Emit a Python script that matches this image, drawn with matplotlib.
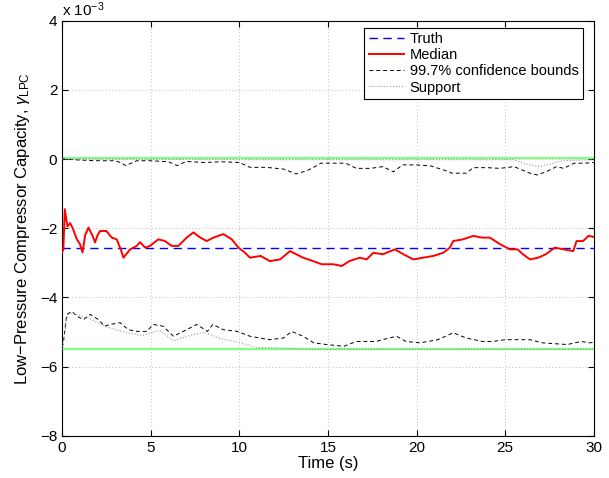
import numpy as np
import matplotlib
matplotlib.use("Agg")
import matplotlib.pyplot as plt

plt.rcParams["font.family"] = ["Liberation Sans", "DejaVu Sans"]
plt.rcParams["mathtext.fontset"] = "custom"
plt.rcParams["mathtext.rm"] = "Liberation Sans"
plt.rcParams["mathtext.it"] = "Liberation Sans:italic"

# values are in units of 1e-3
truth_val = -2.56
support_hi = 0.02
support_lo = -5.5

t_med = [0.0, 0.07, 0.15, 0.3, 0.45, 0.6, 0.83, 1.0, 1.15, 1.3, 1.49, 1.7, 1.86, 2.0, 2.14,
         2.5, 2.8, 3.08, 3.3, 3.46, 3.84, 4.21, 4.4, 4.68, 4.96, 5.43, 5.8, 6.18, 6.56,
         7.03, 7.41, 7.8, 8.16, 8.54, 9.1, 9.57, 9.95, 10.3, 10.6, 11.2, 11.73, 12.3,
         12.86, 13.2, 13.6, 14.0, 14.65, 15.3, 15.78, 16.2, 16.8, 17.18, 17.56, 18.1,
         18.78, 19.25, 19.82, 20.38, 20.94, 21.5, 21.88, 22.07, 22.63, 23.2, 23.67,
         24.14, 24.7, 25.27, 25.7, 26.0, 26.4, 26.87, 27.3, 27.8, 28.3, 28.84, 29.03,
         29.4, 29.7, 30.0]
median = [-2.7, -2.61, -1.45, -1.95, -1.85, -2.0, -2.32, -2.45, -2.7, -2.2, -1.98, -2.2,
          -2.41, -2.2, -2.08, -2.08, -2.27, -2.32, -2.6, -2.85, -2.61, -2.51, -2.40, -2.56,
          -2.51, -2.32, -2.37, -2.51, -2.51, -2.27, -2.12, -2.27, -2.37, -2.27, -2.17,
          -2.32, -2.56, -2.7, -2.85, -2.80, -2.95, -2.90, -2.66, -2.75, -2.85, -2.92,
          -3.04, -3.04, -3.09, -2.95, -2.85, -2.90, -2.71, -2.75, -2.61, -2.75, -2.90,
          -2.85, -2.80, -2.71, -2.56, -2.37, -2.32, -2.22, -2.27, -2.27, -2.46, -2.61,
          -2.61, -2.75, -2.90, -2.85, -2.75, -2.56, -2.61, -2.66, -2.37, -2.37, -2.22,
          -2.25]

t_up = [0.0, 1.0, 2.0, 3.0, 3.27, 3.6, 4.2, 5.0, 6.0, 6.5, 7.0, 8.0, 9.0, 10.0, 10.6,
        11.5, 12.5, 13.2, 13.8, 14.2, 14.6, 16.0, 16.6, 17.4, 18.1, 18.7, 19.2, 20.0,
        20.8, 21.6, 22.0, 22.8, 23.2, 24.0, 24.7, 25.5, 26.4, 26.8, 27.3, 27.9, 28.3,
        28.9, 29.5, 30.0]
upper = [0.0, -0.03, -0.05, -0.05, -0.10, -0.19, -0.05, -0.05, -0.08, -0.19, -0.07,
         -0.10, -0.08, -0.10, -0.24, -0.24, -0.29, -0.43, -0.34, -0.24, -0.12, -0.12,
         -0.27, -0.27, -0.22, -0.37, -0.17, -0.17, -0.20, -0.33, -0.41, -0.41, -0.25,
         -0.25, -0.27, -0.22, -0.41, -0.46, -0.37, -0.22, -0.27, -0.12, -0.12, -0.10]

t_lo = [0.0, 0.07, 0.26, 0.55, 0.83, 1.2, 1.58, 2.05, 2.4, 2.7, 3.27, 3.74, 4.21, 4.77,
        5.15, 5.7, 6.28, 6.84, 7.6, 8.2, 8.5, 9.1, 9.88, 10.6, 11.7, 12.5, 12.95, 13.6,
        14.2, 14.93, 15.9, 16.6, 17.7, 18.87, 19.4, 20.2, 21.2, 22.07, 22.8, 23.7, 24.3,
        25.0, 26.4, 27.1, 28.5, 29.3, 29.7, 30.0]
lower = [-5.45, -5.3, -4.49, -4.40, -4.54, -4.64, -4.49, -4.64, -4.83, -4.78, -4.73,
         -4.93, -4.98, -4.98, -4.78, -4.83, -5.12, -4.98, -4.78, -4.98, -4.78, -4.93,
         -4.98, -5.12, -5.22, -5.17, -4.98, -5.12, -5.31, -5.36, -5.41, -5.27, -5.27,
         -5.12, -5.27, -5.31, -5.22, -5.02, -5.17, -5.27, -5.27, -5.22, -5.22, -5.31,
         -5.36, -5.27, -5.31, -5.30]

t_sup_up = [0.0, 10.0, 25.5, 26.2, 26.9, 27.5, 28.2, 30.0]
sup_up = [0.0, -0.02, -0.02, -0.15, -0.22, -0.15, -0.05, -0.02]

t_sup_lo = [0.0, 0.3, 0.6, 1.5, 2.5, 3.5, 4.5, 5.5, 6.3, 7.2, 8.0, 9.0, 10.0, 11.0,
            12.0, 14.0, 20.0, 30.0]
sup_lo = [-5.5, -4.5, -4.45, -4.6, -4.85, -5.0, -5.1, -4.95, -5.25, -5.1, -5.0, -5.2,
          -5.3, -5.45, -5.45, -5.5, -5.5, -5.5]

fig = plt.figure(figsize=(6.09, 4.78), dpi=100)
ax = fig.add_axes([0.102, 0.088, 0.873, 0.869])

ax.axhline(support_hi, color="#80ff80", lw=1.6, zorder=2)
ax.axhline(support_lo, color="#80ff80", lw=1.6, zorder=2)
ax.plot([0, 30], [truth_val, truth_val], "--", color="#0000ff", lw=1.0,
        dashes=(6, 4), label="Truth", zorder=4)
ax.plot(t_med, median, color="#ff0000", lw=1.4, label="Median", zorder=5)
ax.plot(t_up, upper, "--", color="black", lw=0.7, dashes=(4, 3),
        label="99.7% confidence bounds", zorder=3)
ax.plot(t_lo, lower, "--", color="black", lw=0.7, dashes=(4, 3), zorder=3)
ax.plot(t_sup_up, sup_up, ":", color="#999999", lw=0.8, label="Support", zorder=3)
ax.plot(t_sup_lo, sup_lo, ":", color="#999999", lw=0.8, zorder=3)

ax.set_xlim(0, 30)
ax.set_ylim(-8, 4)
ax.set_xticks(np.arange(0, 31, 5))
ax.set_yticks(np.arange(-8, 5, 2))
ax.set_yticklabels(["\u22128", "\u22126", "\u22124", "\u22122", "0", "2", "4"])
ax.tick_params(direction="in", top=True, right=True, labelsize=11, length=4)
ax.grid(True, linestyle=(0, (1, 3)), color="#aaaaaa", lw=0.6)
for s in ax.spines.values():
    s.set_linewidth(0.8)

ax.set_xlabel("Time (s)", fontsize=12, labelpad=1)
ax.set_ylabel(r"Low$-$Pressure Compressor Capacity, $\gamma_{\mathrm{LPC}}$", fontsize=12,
              labelpad=6)
ax.text(0.0, 1.004, r"x 10$^{-3}$", transform=ax.transAxes, fontsize=11,
        ha="left", va="bottom")

leg = ax.legend(loc="upper right", bbox_to_anchor=(0.985, 0.99), fontsize=10.5,
                frameon=True, fancybox=False, edgecolor="black", framealpha=1,
                handlelength=2.4, handletextpad=0.4, borderpad=0.3, labelspacing=0.15,
                borderaxespad=0.2)
leg.get_frame().set_linewidth(0.8)

fig.savefig("out.png", dpi=100)
